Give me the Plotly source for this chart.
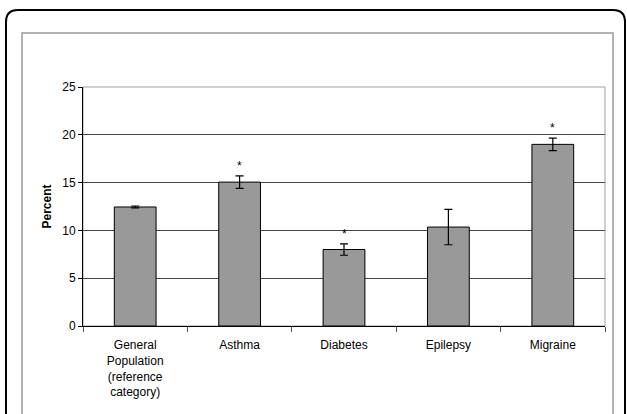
import plotly.graph_objects as go

categories = ["General<br>Population<br>(reference<br>category)", "Asthma", "Diabetes", "Epilepsy", "Migraine"]
values = [12.45, 15.05, 8.0, 10.35, 19.0]
errors = [0.1, 0.65, 0.6, 1.85, 0.65]
significant = [False, True, True, False, True]

W, H = 627, 414
ML, MR, MT, MB = 83, 22, 87, 88
PW, PH = W - ML - MR, H - MT - MB

def px(x):
    return (x - ML) / PW

def py(y):
    return (H - MB - y) / PH

fig = go.Figure()
fig.add_trace(go.Bar(
    x=categories, y=values,
    marker=dict(color="#999999", line=dict(color="black", width=1)),
    width=0.4,
    error_y=dict(type="data", array=errors, visible=True, color="black", thickness=1.2, width=4),
))

for c, v, e, s in zip(categories, values, errors, significant):
    if s:
        fig.add_annotation(x=c, y=v + e, text="*", showarrow=False, yanchor="bottom",
                           yshift=1, font=dict(size=12, color="black"))

# outer rounded frame
r = 12
x0, y0 = 6, 10
x1, y1 = 625, 440
path = (f"M {px(x0)},{py(y1)} L {px(x0)},{py(y0 + r)} "
        f"Q {px(x0)},{py(y0)} {px(x0 + r)},{py(y0)} "
        f"L {px(x1 - r)},{py(y0)} Q {px(x1)},{py(y0)} {px(x1)},{py(y0 + r)} "
        f"L {px(x1)},{py(y1)}")
fig.add_shape(type="path", path=path, xref="paper", yref="paper",
              line=dict(color="black", width=2))
# inner grey frame
fig.add_shape(type="rect", xref="paper", yref="paper",
              x0=px(22), x1=px(613), y0=py(440), y1=py(33),
              line=dict(color="#9a9a9a", width=1.5))
# plot area border
fig.add_shape(type="rect", xref="paper", yref="paper", x0=0, x1=1, y0=0, y1=1,
              line=dict(color="#a0a0a0", width=1), layer="below")

fig.update_layout(
    width=W, height=H,
    margin=dict(l=ML, r=MR, t=MT, b=MB),
    paper_bgcolor="white", plot_bgcolor="white",
    showlegend=False,
    font=dict(family="Liberation Sans, Arial, sans-serif", size=12, color="black"),
    bargap=0.6,
)
fig.update_xaxes(
    type="category", tickson="boundaries", ticks="outside", ticklen=5,
    tickcolor="#555", showline=True, linecolor="black", linewidth=1,
    showgrid=False, tickfont=dict(size=12), range=[-0.5, 4.5],
    ticklabelstandoff=8,
)
fig.update_yaxes(
    range=[0, 25], dtick=5, ticks="outside", ticklen=4, tickcolor="black",
    showline=True, linecolor="black", linewidth=1,
    showgrid=True, gridcolor="#444444", gridwidth=0.8,
    title=dict(text="<b>Percent</b>", font=dict(size=12), standoff=8),
    tickfont=dict(size=12), zeroline=False,
)

fig.write_html("out.html", config={"displayModeBar": False},
               post_script="document.body.style.margin='0';")
